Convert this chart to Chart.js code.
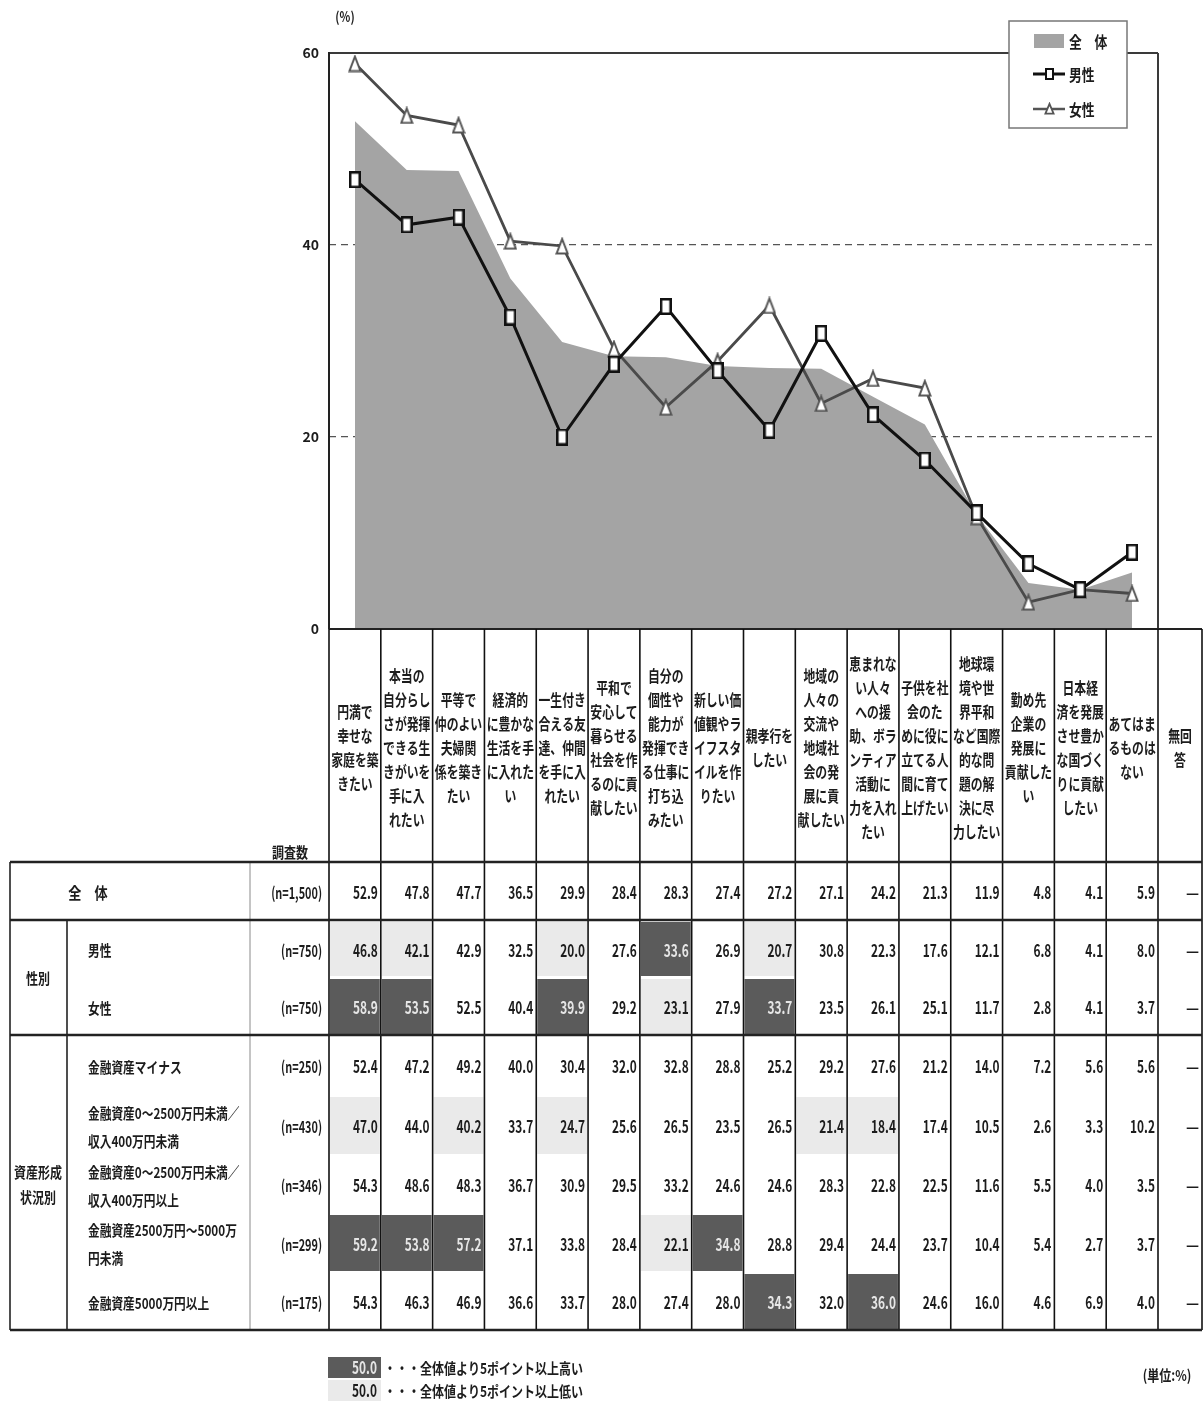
<!DOCTYPE html>
<html>
<head>
<meta charset="utf-8">
<script src="https://cdn.jsdelivr.net/npm/chart.js@4.4.1/dist/chart.umd.min.js"></script>
<style>
html, body { margin: 0; padding: 0; background: #fff; }
canvas { display: block; }
</style>
</head>
<body>
<canvas id="chart" width="1203" height="1414"></canvas>
<script>
// column headers (line breaks as in the original table)
const categories = [
    ['円満で', '幸せな', '家庭を築', 'きたい'],
    ['本当の', '自分らし', 'さが発揮', 'できる生', 'きがいを', '手に入', 'れたい'],
    ['平等で', '仲のよい', '夫婦関', '係を築き', 'たい'],
    ['経済的', 'に豊かな', '生活を手', 'に入れた', 'い'],
    ['一生付き', '合える友', '達、仲間', 'を手に入', 'れたい'],
    ['平和で', '安心して', '暮らせる', '社会を作', 'るのに貢', '献したい'],
    ['自分の', '個性や', '能力が', '発揮でき', 'る仕事に', '打ち込', 'みたい'],
    ['新しい価', '値観やラ', 'イフスタ', 'イルを作', 'りたい'],
    ['親孝行を', 'したい'],
    ['地域の', '人々の', '交流や', '地域社', '会の発', '展に貢', '献したい'],
    ['恵まれな', 'い人々', 'への援', '助、ボラ', 'ンティア', '活動に', '力を入れ', 'たい'],
    ['子供を社', '会のた', 'めに役に', '立てる人', '間に育て', '上げたい'],
    ['地球環', '境や世', '界平和', 'など国際', '的な問', '題の解', '決に尽', '力したい'],
    ['勤め先', '企業の', '発展に', '貢献した', 'い'],
    ['日本経', '済を発展', 'させ豊か', 'な国づく', 'りに貢献', 'したい'],
    ['あてはま', 'るものは', 'ない']
]
const noAnswerHeader = ['無回', '答']
const yTicks = [0, 20, 40, 60]

const overall = [52.9, 47.8, 47.7, 36.5, 29.9, 28.4, 28.3, 27.4, 27.2, 27.1, 24.2, 21.3, 11.9, 4.8, 4.1, 5.9]
const male = [46.8, 42.1, 42.9, 32.5, 20.0, 27.6, 33.6, 26.9, 20.7, 30.8, 22.3, 17.6, 12.1, 6.8, 4.1, 8.0]
const female = [58.9, 53.5, 52.5, 40.4, 39.9, 29.2, 23.1, 27.9, 33.7, 23.5, 26.1, 25.1, 11.7, 2.8, 4.1, 3.7]
const assetMinus = [52.4, 47.2, 49.2, 40.0, 30.4, 32.0, 32.8, 28.8, 25.2, 29.2, 27.6, 21.2, 14.0, 7.2, 5.6, 5.6]
const assetLowIncome = [47.0, 44.0, 40.2, 33.7, 24.7, 25.6, 26.5, 23.5, 26.5, 21.4, 18.4, 17.4, 10.5, 2.6, 3.3, 10.2]
const assetHighIncome = [54.3, 48.6, 48.3, 36.7, 30.9, 29.5, 33.2, 24.6, 24.6, 28.3, 22.8, 22.5, 11.6, 5.5, 4.0, 3.5]
const asset2500to5000 = [59.2, 53.8, 57.2, 37.1, 33.8, 28.4, 22.1, 34.8, 28.8, 29.4, 24.4, 23.7, 10.4, 5.4, 2.7, 3.7]
const asset5000plus = [54.3, 46.3, 46.9, 36.6, 33.7, 28.0, 27.4, 28.0, 34.3, 32.0, 36.0, 24.6, 16.0, 4.6, 6.9, 4.0]

const overallN = '(n=1,500)'
const rowLabels = [
    ['男性'], ['女性'],
    ['金融資産マイナス'],
    ['金融資産0～2500万円未満／', '収入400万円未満'],
    ['金融資産0～2500万円未満／', '収入400万円以上'],
    ['金融資産2500万円～5000万', '円未満'],
    ['金融資産5000万円以上']
]
const rowN = ['(n=750)', '(n=750)', '(n=250)', '(n=430)', '(n=346)', '(n=299)', '(n=175)']
const rowValues = [male, female, assetMinus, assetLowIncome, assetHighIncome, asset2500to5000, asset5000plus]

const FONT = '"Noto Sans CJK JP", "Noto Sans", sans-serif'
const AREA_GRAY = '#a4a4a4'
const DARK_CELL = '#5b5b5b'
const LIGHT_CELL = '#eaeaea'

function txt(ctx, s, x, y, size, align, sx, color) {
    ctx.save()
    ctx.font = `bold ${size}px ${FONT}`
    ctx.fillStyle = color || '#1c1c1c'
    ctx.textAlign = align
    ctx.textBaseline = 'middle'
    ctx.translate(x, y)
    ctx.scale(sx, 1)
    ctx.fillText(s, 0, 0)
    ctx.restore()
}

function line(ctx, x1, y1, x2, y2, w, color) {
    ctx.save()
    ctx.strokeStyle = color || '#1a1a1a'
    ctx.lineWidth = w
    ctx.beginPath()
    ctx.moveTo(x1, y1)
    ctx.lineTo(x2, y2)
    ctx.stroke()
    ctx.restore()
}

function rectMarker(w, h, lw) {
    const c = document.createElement('canvas')
    c.width = w; c.height = h
    const g = c.getContext('2d')
    g.fillStyle = '#fff'
    g.fillRect(0, 0, w, h)
    g.strokeStyle = '#111'
    g.lineWidth = lw
    g.strokeRect(lw / 2, lw / 2, w - lw, h - lw)
    return c
}

function triMarker(w, h, lw) {
    const c = document.createElement('canvas')
    c.width = w; c.height = h
    const g = c.getContext('2d')
    g.fillStyle = '#fff'
    g.strokeStyle = '#555'
    g.lineWidth = lw
    g.lineJoin = 'miter'
    g.beginPath()
    g.moveTo(w / 2, lw)
    g.lineTo(w - lw / 2 - 0.5, h - lw / 2 - 0.5)
    g.lineTo(lw / 2 + 0.5, h - lw / 2 - 0.5)
    g.closePath()
    g.fill()
    g.stroke()
    return c
}

const maleMarker = rectMarker(12, 17, 2.5)
const femaleMarker = triMarker(14, 18, 2)

// gap from the overall value decides the shading of a cell
function shade(v, base) {
    const d = Math.round((v - base) * 10)
    if (d >= 50) return 'high'
    if (d <= -50) return 'low'
    return null
}

const framePlugin = {
    id: 'frame',
    beforeDatasetsDraw(chart) {
        const { ctx, chartArea: a } = chart
        line(ctx, a.left, a.top, a.right, a.top, 2, '#3a3a3a')
        line(ctx, a.right, a.top, a.right, a.bottom, 2, '#3a3a3a')
        line(ctx, a.left, a.top - 1, a.left, a.bottom, 2, '#222')
    },
    afterDraw(chart) {
        const ctx = chart.ctx
        txt(ctx, '(%)', 345, 17, 14, 'center', 0.8)
        // legend box
        ctx.save()
        ctx.fillStyle = '#fff'
        ctx.fillRect(1009, 21, 118, 107)
        ctx.strokeStyle = '#777'
        ctx.lineWidth = 1.5
        ctx.strokeRect(1009, 21, 118, 107)
        ctx.fillStyle = AREA_GRAY
        ctx.fillRect(1034, 34, 30, 14)
        ctx.restore()
        txt(ctx, '全　体', 1069, 42, 16, 'left', 0.8)
        line(ctx, 1033, 74, 1065, 74, 3, '#111')
        ctx.drawImage(rectMarker(9, 12, 2), 1045, 68)
        txt(ctx, '男性', 1069, 75, 16, 'left', 0.8)
        line(ctx, 1033, 109, 1065, 109, 2.5, '#555')
        ctx.drawImage(triMarker(11, 13, 1.8), 1044, 102)
        txt(ctx, '女性', 1069, 110, 16, 'left', 0.8)
    }
}

const tablePlugin = {
    id: 'surveyTable',
    afterDraw(chart) {
        const ctx = chart.ctx
        const x = chart.scales.x
        const a = chart.chartArea
        const half = (x.getPixelForValue(1) - x.getPixelForValue(0)) / 2
        const cols = categories.map((c, i) => [x.getPixelForValue(i) - half, x.getPixelForValue(i) + half])
        cols.push([a.right, 1202])
        const headTop = a.bottom, headBottom = 862, tableBottom = 1330
        const rowTops = [920, 977, 1035, 1095, 1155, 1213, 1272, 1330]

        // shaded cells
        rowValues.forEach((vals, r) => {
            vals.forEach((v, i) => {
                const s = shade(v, overall[i])
                if (!s) return
                ctx.fillStyle = s === 'high' ? DARK_CELL : LIGHT_CELL
                ctx.fillRect(cols[i][0] + 1, rowTops[r] + 2, cols[i][1] - cols[i][0] - 2, rowTops[r + 1] - rowTops[r] - 3)
            })
        })

        // header texts
        const headers = categories.concat([noAnswerHeader])
        headers.forEach((lines, i) => {
            const cx = (cols[i][0] + cols[i][1]) / 2
            const lh = 24
            const y0 = 748 - (lines.length - 1) * lh / 2
            lines.forEach((t, k) => txt(ctx, t, cx, y0 + k * lh, 16, 'center', 0.74))
        })
        txt(ctx, '調査数', 290, 852, 15, 'center', 0.8)

        // overall row
        const numSize = 17, numSx = 0.7
        txt(ctx, '全　体', 88, 893, 16, 'center', 0.82)
        txt(ctx, overallN, 322, 893, 16, 'right', 0.68)
        overall.forEach((v, i) => txt(ctx, v.toFixed(1), cols[i][1] - 3, 893, numSize, 'right', numSx))
        txt(ctx, '—', cols[16][1] - 3, 893, 16, 'right', 0.9)

        // grouped rows
        rowValues.forEach((vals, r) => {
            const cy = (rowTops[r] + rowTops[r + 1]) / 2 + 2
            const lbl = rowLabels[r]
            if (lbl.length === 1) {
                txt(ctx, lbl[0], 88, cy, 15, 'left', 0.78)
            } else {
                txt(ctx, lbl[0], 88, cy - 14, 15, 'left', 0.78)
                txt(ctx, lbl[1], 88, cy + 14, 15, 'left', 0.78)
            }
            txt(ctx, rowN[r], 322, cy, 16, 'right', 0.68)
            vals.forEach((v, i) => {
                const s = shade(v, overall[i])
                txt(ctx, v.toFixed(1), cols[i][1] - 3, cy, numSize, 'right', numSx, s === 'high' ? '#e6e6e6' : '#1c1c1c')
            })
            txt(ctx, '—', cols[16][1] - 3, cy, 16, 'right', 0.9)
        })
        txt(ctx, '性別', 38, 978, 15, 'center', 0.8)
        txt(ctx, '資産形成', 38, 1172, 15, 'center', 0.8)
        txt(ctx, '状況別', 38, 1197, 15, 'center', 0.8)

        // grid lines
        line(ctx, a.left, headTop, 1202, headTop, 2, '#222')
        cols.forEach(c => line(ctx, c[0], headTop, c[0], tableBottom, 1.6, '#111'))
        line(ctx, 1202, headTop, 1202, tableBottom, 1.6, '#111')
        line(ctx, 10, headBottom, 10, tableBottom, 1.6, '#222')
        line(ctx, 67, 920, 67, tableBottom, 1.6, '#222')
        line(ctx, 250, headBottom, 250, tableBottom, 1, '#8a8a8a')
        ;[headBottom, 920, 1035, tableBottom].forEach(y => line(ctx, 10, y, 1202, y, 2.6, '#222'))

        // shading key
        ctx.fillStyle = DARK_CELL
        ctx.fillRect(328, 1357, 53, 21)
        ctx.fillStyle = LIGHT_CELL
        ctx.fillRect(328, 1380, 53, 21)
        txt(ctx, '50.0', 377, 1368, numSize, 'right', numSx, '#e6e6e6')
        txt(ctx, '50.0', 377, 1391, numSize, 'right', numSx)
        txt(ctx, '・・・全体値より5ポイント以上高い', 384, 1368, 15, 'left', 0.8)
        txt(ctx, '・・・全体値より5ポイント以上低い', 384, 1391, 15, 'left', 0.8)
        txt(ctx, '(単位:%)', 1167, 1375, 15, 'center', 0.8)
    }
}

const data = {
    labels: categories.map(c => c.join('')),
    datasets: [
        {
            label: '男性',
            data: male,
            borderColor: '#111',
            borderWidth: 3,
            pointStyle: maleMarker,
            fill: false,
            order: 1
        },
        {
            label: '女性',
            data: female,
            borderColor: '#4a4a4a',
            borderWidth: 2.8,
            pointStyle: femaleMarker,
            fill: false,
            order: 2
        },
        {
            label: '全体',
            data: overall,
            borderWidth: 0,
            borderColor: AREA_GRAY,
            backgroundColor: AREA_GRAY,
            pointRadius: 0,
            fill: 'origin',
            order: 3
        }
    ]
}

const config = {
    type: 'line',
    data: data,
    options: {
        responsive: false,
        animation: false,
        devicePixelRatio: 1,
        layout: {
            padding: { top: 53, right: 45, left: 0, bottom: 0 }
        },
        elements: {
            line: { tension: 0 },
            point: { radius: 8, hoverRadius: 8 }
        },
        plugins: {
            legend: { display: false },
            tooltip: { enabled: false }
        },
        scales: {
            x: {
                offset: true,
                grid: { display: false },
                ticks: { display: false },
                border: { display: false },
                afterFit(s) { s.height = 1414 - 629 }
            },
            y: {
                min: 0,
                max: 60,
                afterBuildTicks(s) { s.ticks = yTicks.map(v => ({ value: v })) },
                afterFit(s) { s.width = 329 },
                ticks: {
                    padding: 10,
                    color: '#1c1c1c',
                    font: { family: FONT, size: 14, weight: 'bold' }
                },
                border: { display: false, dash: [7, 5] },
                grid: {
                    drawTicks: false,
                    color: ctx => (ctx.tick && (ctx.tick.value === 20 || ctx.tick.value === 40)) ? '#555' : 'rgba(0,0,0,0)',
                    lineWidth: 1.2
                }
            }
        }
    },
    plugins: [framePlugin, tablePlugin]
}

new Chart(document.getElementById('chart'), config)
</script>
</body>
</html>
